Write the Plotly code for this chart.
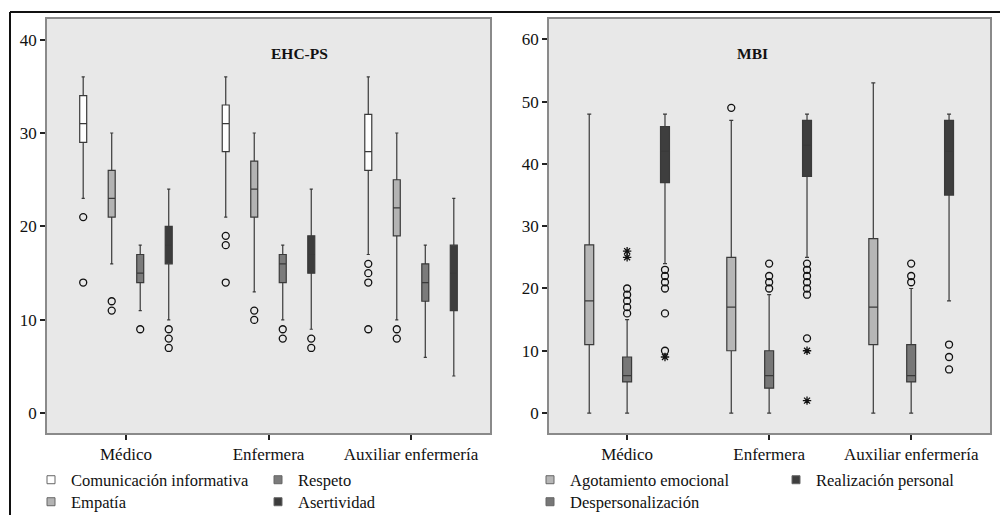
import plotly.graph_objects as go

# ---------------- data ----------------
groups = ["Médico", "Enfermera", "Auxiliar enfermería"]

# EHC-PS (left panel)
ehc_names = ["Comunicación informativa", "Empatía", "Respeto", "Asertividad"]
ehc_low = [[23, 21, 17], [16, 13, 10], [11, 10, 6], [10, 9, 4]]
ehc_q1 = [[29, 28, 26], [21, 21, 19], [14, 14, 12], [16, 15, 11]]
ehc_med = [[31, 31, 28], [23, 24, 22], [15, 16, 14], [18, 17, 15]]
ehc_q3 = [[34, 33, 32], [26, 27, 25], [17, 17, 16], [20, 19, 18]]
ehc_up = [[36, 36, 36], [30, 30, 30], [18, 18, 18], [24, 24, 23]]
ehc_out = [
    [[21, 14], [19, 18, 14], [16, 15, 14, 9]],
    [[12, 11], [11, 10], [9, 8]],
    [[9], [9, 8], []],
    [[9, 8, 7], [8, 7], []],
]
ehc_colors = ["#ffffff", "#b3b3b3", "#7b7b7b", "#3c3c3c"]

# MBI (right panel)
mbi_names = ["Agotamiento emocional", "Despersonalización", "Realización personal"]
mbi_low = [[0, 0, 0], [0, 0, 0], [24, 25, 18]]
mbi_q1 = [[11, 10, 11], [5, 4, 5], [37, 38, 35]]
mbi_med = [[18, 17, 17], [6, 6, 6], [42, 43, 42]]
mbi_q3 = [[27, 25, 28], [9, 10, 11], [46, 47, 47]]
mbi_up = [[48, 47, 53], [15, 19, 20], [48, 48, 48]]
mbi_out = [
    [[], [49], []],
    [[20, 19, 18, 17, 16], [24, 22, 21, 20], [24, 22, 21]],
    [[23, 22, 21, 20, 16, 10], [24, 23, 22, 21, 20, 19, 12], [11, 9, 7]],
]
mbi_ext = [
    [[], [], []],
    [[26, 25], [], []],
    [[9], [10, 2], []],
]
mbi_colors = ["#b6b6b6", "#777777", "#3e3e3e"]

# ---------------- figure ----------------
W, H = 1000, 515
fig = go.Figure()
FONT = "Liberation Serif"
GROUP_W = 0.8


def add_panel(names, low, q1, med, q3, up, out, ext, colors, xa, ya, boxw):
    n = len(names)
    idx = list(range(len(groups)))
    for j, name in enumerate(names):
        off = (j - (n - 1) / 2) * GROUP_W / n
        pos = [i + off for i in idx]
        fig.add_trace(go.Box(
            x=pos, q1=q1[j], median=med[j], q3=q3[j],
            lowerfence=low[j], upperfence=up[j],
            width=boxw, whiskerwidth=0.45,
            fillcolor=colors[j], line=dict(color="#3a3a3a", width=1.2),
            boxpoints=False, showlegend=False, hoverinfo="skip",
            xaxis=xa, yaxis=ya, name=name,
        ))
        ox, oy = [], []
        for i in idx:
            for v in out[j][i]:
                ox.append(pos[i]); oy.append(v)
        if ox:
            fig.add_trace(go.Scatter(
                x=ox, y=oy, mode="markers", showlegend=False, hoverinfo="skip",
                marker=dict(symbol="circle-open", size=7, color="#111",
                            line=dict(width=1.3, color="#111")),
                xaxis=xa, yaxis=ya,
            ))
        if ext is not None:
            ex, ey = [], []
            for i in idx:
                for v in ext[j][i]:
                    ex.append(pos[i]); ey.append(v)
            if ex:
                fig.add_trace(go.Scatter(
                    x=ex, y=ey, mode="markers", showlegend=False, hoverinfo="skip",
                    marker=dict(symbol="asterisk-open", size=7, color="#111",
                                line=dict(width=1.3, color="#111")),
                    xaxis=xa, yaxis=ya,
                ))


add_panel(ehc_names, ehc_low, ehc_q1, ehc_med, ehc_q3, ehc_up, ehc_out, None,
          ehc_colors, "x", "y", 0.049)
add_panel(mbi_names, mbi_low, mbi_q1, mbi_med, mbi_q3, mbi_up, mbi_out, mbi_ext,
          mbi_colors, "x2", "y2", 0.063)

# legend entries: one small legend per entry, laid out in two columns
# (text-left x in px, row-centre y in px)
legend_slots_ehc = [(71, 480), (71, 502), (298, 480), (298, 502)]
legend_slots_mbi = [(570, 480), (570, 502), (816, 480)]

legend_layouts = {}
k = 0
for j, name in enumerate(ehc_names):
    k += 1
    lname = "legend" if k == 1 else f"legend{k}"
    legend_layouts[lname] = legend_slots_ehc[j]
    fig.add_trace(go.Scatter(
        x=[None], y=[None], mode="markers", name=name, legend=lname,
        marker=dict(symbol="square", size=8, color=ehc_colors[j],
                    line=dict(width=1, color="#666")),
        xaxis="x", yaxis="y",
    ))
for j, name in enumerate(mbi_names):
    k += 1
    lname = f"legend{k}"
    legend_layouts[lname] = legend_slots_mbi[j]
    fig.add_trace(go.Scatter(
        x=[None], y=[None], mode="markers", name=name, legend=lname,
        marker=dict(symbol="square", size=8, color=mbi_colors[j],
                    line=dict(width=1, color="#666")),
        xaxis="x2", yaxis="y2",
    ))

axis_common = dict(showgrid=False, zeroline=False, showline=True, linecolor="#8a8a8a",
                   linewidth=1.5, mirror=True, ticks="outside", ticklen=5,
                   tickcolor="#222", tickwidth=1.5,
                   tickfont=dict(family=FONT, size=17, color="#111"))

layout_legends = {}
for lname, (tx, ty) in legend_layouts.items():
    layout_legends[lname] = dict(
        orientation="v", x=(tx - 40) / W, y=1 - ty / H, xanchor="left", yanchor="middle",
        font=dict(family=FONT, size=16.5, color="#111"), bgcolor="rgba(0,0,0,0)",
        itemclick=False, borderwidth=0,
    )

fig.update_layout(
    width=W, height=H,
    margin=dict(l=0, r=0, t=0, b=0, autoexpand=False),
    paper_bgcolor="white", plot_bgcolor="#e8e8e8",
    font=dict(family=FONT, size=16, color="#111"),
    boxmode="overlay",
    xaxis=dict(domain=[47 / W, 490 / W], range=[-0.554, 2.554],
               tickvals=list(range(len(groups))), ticktext=groups, anchor="y", **axis_common),
    yaxis=dict(domain=[1 - 433 / H, 1 - 19 / H], range=[-2.1, 42.2],
               tickvals=[0, 10, 20, 30, 40], anchor="x", **axis_common),
    xaxis2=dict(domain=[549 / W, 990 / W], range=[-0.55, 2.555],
                tickvals=list(range(len(groups))), ticktext=groups, anchor="y2", **axis_common),
    yaxis2=dict(domain=[1 - 433 / H, 1 - 19 / H], range=[-3.2, 63.26],
                tickvals=[0, 10, 20, 30, 40, 50, 60], anchor="x2", **axis_common),
    annotations=[
        dict(text="<b>EHC-PS</b>", xref="paper", yref="paper", x=(47 + 490) / 2 / W,
             y=1 - 43 / H, showarrow=False, font=dict(family=FONT, size=15.5, color="#111")),
        dict(text="<b>MBI</b>", xref="paper", yref="paper", x=(549 + 990) / 2 / W,
             y=1 - 43 / H, showarrow=False, font=dict(family=FONT, size=15.5, color="#111")),
    ],
    shapes=[
        dict(type="line", xref="paper", yref="paper", x0=10 / W, x1=1, y0=1 - 12 / H,
             y1=1 - 12 / H, line=dict(color="#111", width=2)),
        dict(type="line", xref="paper", yref="paper", x0=10 / W, x1=10 / W, y0=0,
             y1=1 - 12 / H, line=dict(color="#111", width=2)),
    ],
    **layout_legends,
)

fig.write_html(
    "out.html",
    config={"displayModeBar": False},
    post_script="document.body.style.margin='0';document.body.style.overflow='hidden';",
)
